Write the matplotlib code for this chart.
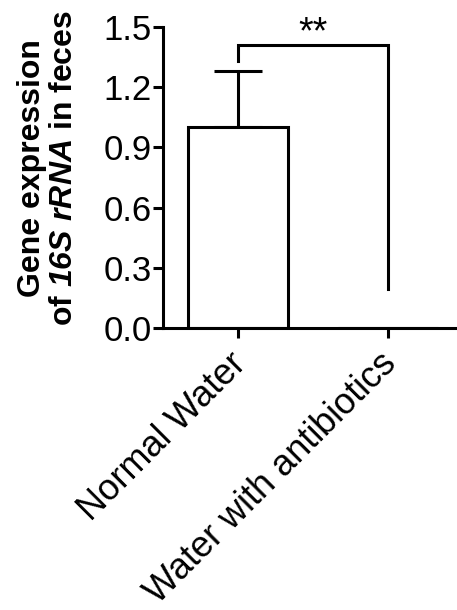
import matplotlib
matplotlib.use("Agg")
import matplotlib.pyplot as plt
from matplotlib.transforms import ScaledTranslation

categories = ["Normal Water", "Water with antibiotics"]
means = [1.0, 0.0]
errors_up = [0.28, 0.0]
yticks = [0.0, 0.3, 0.6, 0.9, 1.2, 1.5]
ytick_labels = ["0.0", "0.3", "0.6", "0.9", "1.2", "1.5"]
bracket_y = 1.41
bracket_left_end = 1.33
bracket_right_end = 0.195
sig_label = "**"

plt.rcParams['font.family'] = ['Liberation Sans', 'DejaVu Sans']
plt.rcParams['mathtext.fontset'] = 'custom'
plt.rcParams['mathtext.it'] = 'Liberation Sans:bold:italic'
plt.rcParams['mathtext.rm'] = 'Liberation Sans:bold:italic'

W, H = 457, 610
fig = plt.figure(figsize=(W/100, H/100), dpi=100)
ax = fig.add_axes([163/W, 1-328/H, 300/W, 301/H])

lw = 2.2
x = list(range(len(categories)))
ax.bar(x, means, width=0.667, color='white', edgecolor='black', linewidth=lw, zorder=2)
for xi, m, e in zip(x, means, errors_up):
    if e > 0:
        ax.errorbar([xi], [m], yerr=[[0], [e]], fmt='none', ecolor='black',
                    elinewidth=lw, capsize=17, capthick=lw, zorder=1)

ax.plot([0, 0, 1, 1], [bracket_left_end, bracket_y, bracket_y, bracket_right_end],
        color='black', lw=lw, clip_on=False, solid_joinstyle='miter')
ax.text(0.5, 1.42, sig_label, ha='center', va='baseline', fontsize=27, clip_on=False)

ax.set_xlim(-0.5, 1.5)
ax.set_ylim(0, 1.5)
ax.set_yticks(yticks)
ax.set_yticklabels(ytick_labels, fontsize=25)
ax.set_xticks(x)
ax.set_xticklabels([])
offset = ScaledTranslation(-9/100, -18/100, fig.dpi_scale_trans)
for xi, cat in zip(x, categories):
    ax.text(xi, 0, cat, transform=ax.transData + offset, fontsize=26, rotation=45,
            ha='right', va='top', rotation_mode='anchor', clip_on=False)
for s in ['top', 'right']:
    ax.spines[s].set_visible(False)
for s in ['left', 'bottom']:
    ax.spines[s].set_linewidth(lw)
ax.tick_params(axis='both', width=lw, length=7, direction='out')
ax.tick_params(axis='y', pad=1)

fig.text(48/W, 1-168/H, "Gene expression\nof $16S\\ rRNA$ in feces",
         rotation=90, ha='center', va='center', fontsize=23, fontweight='bold',
         multialignment='center', linespacing=1.08)

fig.savefig("out.png", dpi=100)
